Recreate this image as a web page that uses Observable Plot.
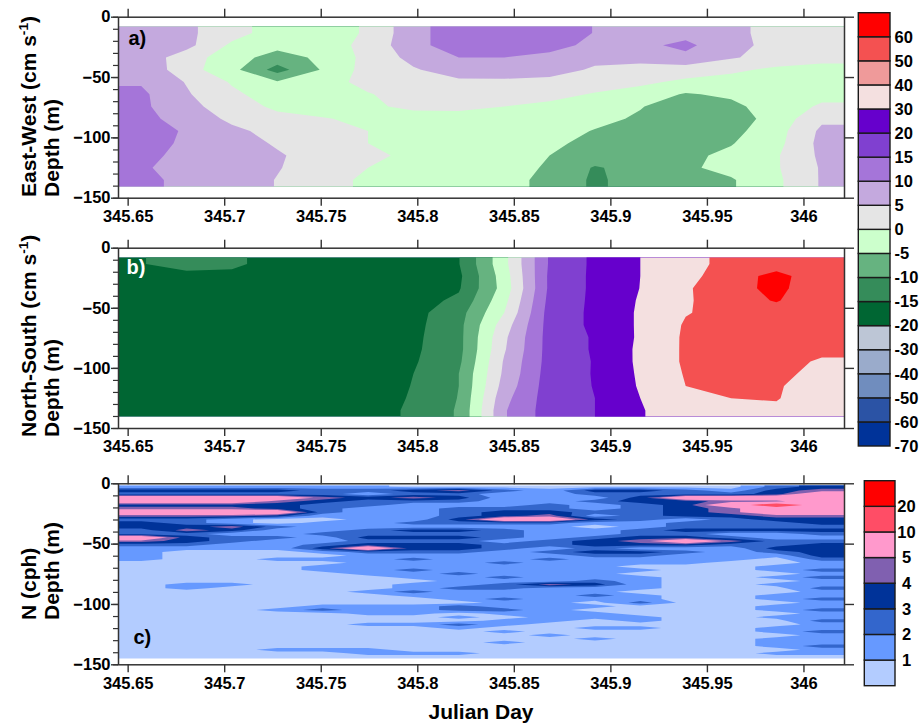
<!DOCTYPE html>
<html><head><meta charset="utf-8">
<script src="https://cdn.jsdelivr.net/npm/d3@7"></script>
<script src="https://cdn.jsdelivr.net/npm/@observablehq/plot@0.6"></script>
<style>
html,body{margin:0;padding:0;background:#fff;}
#chart{position:relative;width:921px;height:725px;overflow:hidden;font-family:"Liberation Sans",Arial,sans-serif;font-weight:bold;color:#000;}
#chart .p{position:absolute;left:0;}
.ytitle{position:absolute;transform-origin:0 0;transform:rotate(-90deg);white-space:nowrap;font-size:21px;line-height:23.2px;}
.ytitle sup{font-size:0.65em;line-height:0;vertical-align:0.6em;}
.xtitle{position:absolute;left:381px;width:200px;text-align:center;font-size:21px;line-height:24px;}
</style></head>
<body><div id="chart"></div>
<script>
// ---------- axes / legend values ----------
const dayTicks = [345.65, 345.7, 345.75, 345.8, 345.85, 345.9, 345.95, 346];
const depthTicks = [0, -50, -100, -150];
const minorDepthTicks = [0, -10, -20, -30, -40, -50, -60, -70, -80, -90, -100, -110, -120, -130, -140, -150];

// velocity legend (lower bound of each colour block, bottom to top)
const velLevels = [-70, -60, -50, -40, -30, -20, -15, -10, -5, 0, 5, 10, 15, 20, 30, 40, 50, 60];
const velColors = ["#003399", "#2B53A5", "#708DBE", "#9AABCB", "#BDC6D6", "#006633", "#358C5A", "#66B380",
  "#CCFFCC", "#E5E5E5", "#C4A9DE", "#A575D9", "#8040D0", "#6600CC", "#F4E0E0", "#EF9A9A", "#F45151", "#FF0000"];
const velContourLevels = [-70, -60, -50, -40, -30, -20, -15, -10, -5, 0, 5, 10, 15, 20, 30, 50, 60];

// buoyancy frequency legend
const nLevels = [0, 1, 2, 3, 4, 5, 10, 20];
const nColors = ["#B3CCFF", "#6699FF", "#3366CC", "#003399", "#8060B0", "#FF99CC", "#FF4D66", "#FF0000"];

// ---------- grid extents ----------
const dayStart = 345.645, dayEnd = 346.021;
const velTop = -8, velBottom = -140;
const nTop = -1, nBottom = -145;

// ---------- a) East-West velocity (cm/s), rows top -> bottom, 16 columns in time ----------
const eastWest = [
  [8, 6, 2, -2.5, -2, 0.5, 8.5, 12.5, 13.5, 13, 9.8, 8, 8.5, 6.5, 3, 2],
  [8, 6.5, -1, -3.5, -2.5, 1.5, 8.5, 12.5, 13.5, 12, 8.5, 9, 11, 7, 3, 2],
  [8, 2.5, -3, -7, -4, 1.5, 6.5, 10, 10, 8.5, 6, 7, 9, 5.5, 3, 2],
  [9, 2, -3.5, -12, -4.5, 2, 4.5, 7.5, 7, 6.5, 4.5, 3, 2.5, 1, -1, -2],
  [9.5, 4.7, -0.5, -4.5, -2, 1.5, 3, 4, 4.3, 4, 3, 1, -1, -2, -2, -1.5],
  [11, 5.5, 1, -2.5, -2.5, -0.3, 2, 3, 3, 2, -0.5, -2, -5.5, -4, -2.5, -1],
  [11, 6.5, 2.5, -1, -2, -0.8, 1, 1.5, 0, -1.5, -3, -4.8, -7, -6.5, -2, 0.5],
  [11.5, 8, 4, 1.5, 0.3, -1, -2, -2.5, -2.5, -3, -4, -5.5, -7.5, -7.5, -3, 4],
  [14.5, 9, 6, 3.5, 2, 0, -1.5, -2, -2.5, -3.5, -5.2, -7, -8, -6.5, -2, 6],
  [12.5, 9, 7, 4.5, 2.5, 0, -1.5, -2.5, -3, -4.3, -6, -7, -6.5, -5.3, -1.5, 6.5],
  [11.5, 8.5, 7, 5.5, 3, 1, -1, -2.5, -3.5, -5, -7, -7, -6, -4, -0.5, 6],
  [10.5, 8.5, 7, 5.3, 2.5, 0, -1.5, -3, -4, -5.3, -10.5, -8, -5.8, -3.5, -0.5, 5.5],
  [11, 9, 7.5, 4.8, 2, -1, -2, -3, -4, -5.8, -11, -7.5, -6.5, -5.5, -1, 5.5]
];

// ---------- b) North-South velocity (cm/s) ----------
const northSouth = [
  [-15.3, -12.5, -13.5, -18, -17.5, -17.5, -17.5, -15.2, -1.5, 15.6, 21, 30, 44.5, 55, 57, 55],
  [-17.5, -17, -17, -17.5, -17.5, -17.5, -17.5, -16, -2.5, 16, 21, 30, 46, 57, 62, 56],
  [-17.5, -17.5, -17.5, -17.5, -17.5, -17.5, -17.5, -15.5, -3, 16, 21, 30.2, 48.5, 58, 61.5, 56],
  [-17.5, -17.5, -17.5, -17.5, -17.5, -17.5, -17, -14, -1.5, 16.5, 21, 31, 48.5, 57, 60.5, 55],
  [-17.5, -17.5, -17.5, -17.5, -17.5, -17.5, -16.5, -12, 0, 17, 21, 31.5, 49, 56, 57, 51],
  [-17.5, -17.5, -17.5, -17.5, -17.5, -17.5, -16.3, -11.5, 2.5, 17, 21, 31.5, 52, 56, 57, 53],
  [-17.5, -17.5, -17.5, -17.5, -17.5, -17.5, -16, -11.5, 4, 17, 20.5, 31.5, 53, 56, 57, 54],
  [-17.5, -17.5, -17.5, -17.5, -17.5, -17.5, -15.8, -11.5, 4.5, 17, 20.5, 32, 53, 56, 56, 54],
  [-17.5, -17.5, -17.5, -17.5, -17.5, -17.5, -15.5, -11, 5.5, 17, 20.3, 32, 53, 55.5, 56, 48],
  [-17.5, -17.5, -17.5, -17.5, -17.5, -17.5, -15, -10, 6, 17.3, 20.3, 31.5, 51.5, 55, 55, 44],
  [-17.5, -17.5, -17.5, -17.5, -17.5, -17.5, -14.8, -10, 7, 17.5, 20.2, 31, 50, 54, 52, 40],
  [-17.5, -17.5, -17.5, -17.5, -17.5, -17.5, -14.5, -9.8, 8.5, 17.5, 20, 30, 44, 50, 51, 40],
  [-17.5, -17.5, -17.5, -17.5, -17.5, -17.5, -14, -9.5, 9.5, 17.5, 20, 28.5, 42, 48, 47, 40]
];

// ---------- c) N (cph): one code per cell, codes index nCodeValues ----------
const nCodeValues = [0.6, 1.35, 2.5, 3.5, 4.5, 7, 14, 25];
const nCodes = [
  "1111110000000023",
  "3333223421332134",
  "2222212211222235",
  "5555434311135555",
  "5554322211233445",
  "3333221112123565",
  "4443211222123455",
  "5555211233223455",
  "4443111234123344",
  "2210011355321233",
  "3210112222112223",
  "3342111111012222",
  "2431123321123333",
  "2211222221122112",
  "5322133321233211",
  "4321122212345422",
  "2211233322333223",
  "1111353321211133",
  "1000122212332123",
  "1000011111221113",
  "1001112112111102",
  "0000011121111001",
  "0000111111100011",
  "0000112111110012",
  "0000011211100001",
  "0000001121110012",
  "0000000111210001",
  "0110001124310011",
  "0100001221110002",
  "0000012111100001",
  "0000001111210011",
  "0000000121110012",
  "0000000011020001",
  "0000111211100011",
  "0001211221000012",
  "0000011011100001",
  "0000000101110011",
  "0000000011010002",
  "0000011210000001",
  "0000000100110011",
  "0000000010000012",
  "0000000001000001",
  "0000000000100011",
  "0000000010000011",
  "0000000000000012",
  "0001110000000001",
  "0000011100000011",
  "0000000000000000"
];
const nValues = nCodes.map(r => Array.from(r, ch => nCodeValues[+ch]));

// ---------- drawing ----------
const FONT = "'Liberation Sans', Arial, sans-serif";
const SVGNS = "http://www.w3.org/2000/svg";
const chart = document.getElementById("chart");
const fmtDay = d3.format("~g");

// repeat the edge cells so the contour corners are not cut, the extra ring is clipped away
function padGrid(g) {
  const rows = g.map(r => [r[0], ...r, r[r.length - 1]]);
  return [rows[0], ...rows, rows[rows.length - 1]];
}

let clipId = 0;
function panel({grid, top, mTop, inner, y1, y2, thresholds, domain, range, label, labelFill, labelAnchor, labelDx, labelDy}) {
  const H = 230;
  const w = grid[0].length, h = grid.length;
  const cx = (dayEnd - dayStart) / w, cy = (y1 - y2) / h;
  const padded = padGrid(grid);
  const svg = Plot.plot({
    width: 921, height: H,
    marginLeft: 118, marginRight: 77, marginTop: mTop, marginBottom: H - mTop - inner,
    style: {fontFamily: FONT, fontSize: "16.5px", fontWeight: "bold", background: "transparent", color: "#000", overflow: "visible"},
    x: {domain: [dayStart, dayEnd], label: null},
    y: {domain: [-150, 0], label: null},
    color: {type: "threshold", domain, range},
    marks: [
      Plot.contour(padded.flat(), {
        width: w + 2, height: h + 2,
        x1: dayStart - cx, x2: dayEnd + cx, y1: y1 + cy, y2: y2 - cy,
        fill: Plot.identity, stroke: "none", thresholds
      }),
      Plot.frame({stroke: "#333", strokeWidth: 1.5}),
      Plot.axisX({anchor: "bottom", ticks: dayTicks, tickSize: 8, tickPadding: 4, tickFormat: fmtDay, label: null, stroke: "#333", strokeWidth: 1.4, fontSize: 16.5, fontWeight: "bold"}),
      Plot.axisX({anchor: "top", ticks: dayTicks, tickSize: 9, fill: "none", label: null, stroke: "#333", strokeWidth: 1.4}),
      Plot.axisY({anchor: "left", ticks: minorDepthTicks, tickSize: 5, fill: "none", label: null, stroke: "#333", strokeWidth: 1.2}),
      Plot.axisY({anchor: "left", ticks: depthTicks, tickSize: 7, tickPadding: 1, label: null, stroke: "#333", strokeWidth: 1.4, fontSize: 16.5, fontWeight: "bold"}),
      Plot.axisY({anchor: "right", ticks: depthTicks, tickSize: 9, fill: "none", label: null, stroke: "#333", strokeWidth: 1.4}),
      Plot.text([label], {frameAnchor: labelAnchor, dx: labelDx, dy: labelDy, text: d => d, textAnchor: "start", lineAnchor: "middle", fontSize: 20, fontWeight: "bold", fill: labelFill})
    ]
  });
  // clip the contour to the sampled data extent, using the plot's own scales
  const sx = svg.scale("x"), sy = svg.scale("y");
  const px1 = Math.round(sx.apply(dayStart)), px2 = Math.round(sx.apply(dayEnd));
  const py1 = Math.round(sy.apply(y1)), py2 = Math.round(sy.apply(y2));
  const id = "dataclip" + (++clipId);
  const cp = document.createElementNS(SVGNS, "clipPath");
  cp.setAttribute("id", id);
  const r = document.createElementNS(SVGNS, "rect");
  r.setAttribute("x", Math.min(px1, px2));
  r.setAttribute("y", Math.min(py1, py2));
  r.setAttribute("width", Math.abs(px2 - px1));
  r.setAttribute("height", Math.abs(py2 - py1));
  cp.appendChild(r);
  svg.insertBefore(cp, svg.firstChild);
  const g = svg.querySelector('[aria-label="contour"]');
  if (g) g.setAttribute("clip-path", `url(#${id})`);

  const div = document.createElement("div");
  div.className = "p";
  div.style.top = top + "px";
  div.appendChild(svg);
  chart.appendChild(div);
}

panel({grid: eastWest, top: 0, mTop: 16.7, inner: 181, y1: velTop, y2: velBottom,
  thresholds: velContourLevels, domain: velLevels.slice(1), range: velColors,
  label: "a)", labelFill: "#000", labelAnchor: "top-left", labelDx: 10, labelDy: 21});
panel({grid: northSouth, top: 230, mTop: 17.7, inner: 180.3, y1: velTop, y2: velBottom,
  thresholds: velContourLevels, domain: velLevels.slice(1), range: velColors,
  label: "b)", labelFill: "#fff", labelAnchor: "top-left", labelDx: 8, labelDy: 19});
panel({grid: nValues, top: 465, mTop: 18.3, inner: 181, y1: nTop, y2: nBottom,
  thresholds: nLevels, domain: nLevels.slice(1), range: nColors,
  label: "c)", labelFill: "#000", labelAnchor: "bottom-left", labelDx: 15, labelDy: -27});

// colour bars
function colorbar({levels, colors, top, H, left, right, mTop, mBottom, labelDx, labelAnchor, skipFirst}) {
  const n = levels.length;
  const svg = Plot.plot({
    width: 81, height: H,
    marginLeft: left, marginRight: right, marginTop: mTop, marginBottom: mBottom,
    style: {fontFamily: FONT, fontSize: "16.5px", fontWeight: "bold", background: "transparent", color: "#000", overflow: "visible"},
    x: {domain: [0, 1], axis: null},
    y: {domain: [0, n], axis: null},
    color: {type: "threshold", domain: levels.slice(1), range: colors},
    marks: [
      Plot.rect(levels, {x1: 0, x2: 1, y1: (d, i) => i, y2: (d, i) => i + 1, fill: d => d, stroke: "#1a1a1a", strokeWidth: 1.4}),
      Plot.text(levels, {filter: (d, i) => !(skipFirst && i === 0), x: 1, y: (d, i) => i, text: d => String(d),
        dx: labelDx, textAnchor: labelAnchor, lineAnchor: "middle", fontSize: 16.5, fontWeight: "bold"})
    ]
  });
  const div = document.createElement("div");
  div.className = "p";
  div.style.top = top + "px";
  div.style.left = "840px";
  div.appendChild(svg);
  chart.appendChild(div);
}
colorbar({levels: velLevels, colors: velColors, top: 0, H: 460, left: 18.3, right: 31, mTop: 12.7, mBottom: 14, labelDx: 4, labelAnchor: "start", skipFirst: false});
colorbar({levels: nLevels, colors: nColors, top: 465, H: 235, left: 24.3, right: 26, mTop: 15.7, mBottom: 14.3, labelDx: 11, labelAnchor: "middle", skipFirst: true});

// titles (HTML text)
function addTitle(html, top) {
  const t = document.createElement("div");
  t.className = "ytitle";
  t.style.left = "17px";
  t.style.top = top + "px";
  t.innerHTML = html;
  chart.appendChild(t);
}
addTitle("East-West (cm s<sup>-1</sup>)<br>Depth (m)", 197);
addTitle("North-South (cm s<sup>-1</sup>)<br>Depth (m)", 437);
addTitle("N (cph)<br>Depth (m)", 620);
const xt = document.createElement("div");
xt.className = "xtitle";
xt.style.top = "700px";
xt.textContent = "Julian Day";
chart.appendChild(xt);
</script></body></html>
